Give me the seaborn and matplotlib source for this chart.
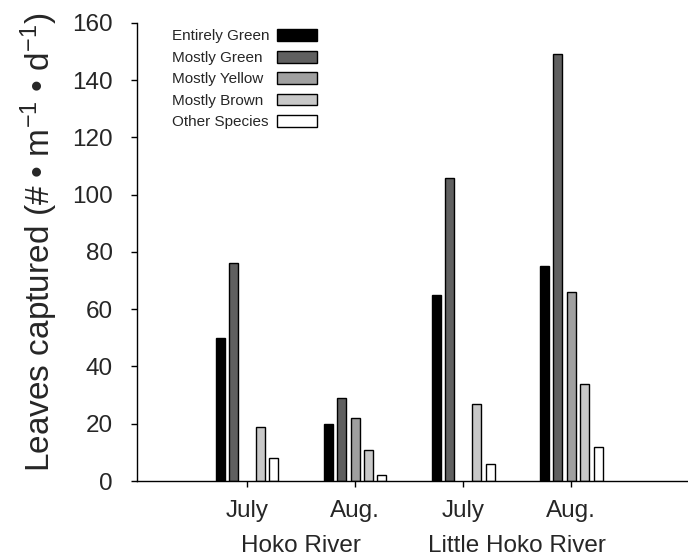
import matplotlib
matplotlib.use("Agg")
import matplotlib.pyplot as plt
import matplotlib.transforms as mtransforms
from matplotlib.patches import Patch
import seaborn as sns
import pandas as pd

# ---- data ----
groups = ["Hoko July", "Hoko Aug.", "Little July", "Little Aug."]
tick_labels = ["July", "Aug.", "July", "Aug."]
river_labels = ["Hoko River", "Little Hoko River"]
categories = ["Entirely Green", "Mostly Green", "Mostly Yellow", "Mostly Brown", "Other Species"]
entirely_green = [50, 20, 65, 75]
mostly_green = [76, 29, 106, 149]
mostly_yellow = [None, 22, None, 66]
mostly_brown = [19, 11, 27, 34]
other_species = [8, 2, 6, 12]
colors = ["#000000", "#606060", "#a0a0a0", "#c8c8c8", "#ffffff"]

series = [entirely_green, mostly_green, mostly_yellow, mostly_brown, other_species]
rows = []
for cat, vals in zip(categories, series):
    for g, v in zip(groups, vals):
        if v is not None:
            rows.append({"group": g, "category": cat, "value": v})
df = pd.DataFrame(rows)

sns.set_theme(style="ticks")
plt.rcParams["font.family"] = ["Liberation Sans", "DejaVu Sans"]
plt.rcParams["mathtext.fontset"] = "custom"
plt.rcParams["mathtext.rm"] = "Liberation Sans"
plt.rcParams["mathtext.it"] = "Liberation Sans"
plt.rcParams["mathtext.bf"] = "Liberation Sans"

fig = plt.figure(figsize=(6.88, 5.59), dpi=100)
ax = fig.add_axes([0.199, 0.1395, 0.801, 0.8195])

sns.barplot(data=df, x="group", y="value", hue="category", order=groups,
            hue_order=categories, palette=colors, width=0.62, gap=0.33,
            edgecolor="black", linewidth=1.0, ax=ax, legend=False)

ax.set_xlim(-1.02, 4.08)
ax.set_ylim(0, 160)
ax.set_yticks(range(0, 161, 20))
ax.set_xticks(range(4))
ax.set_xticklabels(tick_labels, fontsize=17.5)
ax.tick_params(axis="y", labelsize=17.5, length=4.5, width=1, color="black", pad=13)
ax.tick_params(axis="x", length=4, width=1, color="black", pad=10)
ax.set_xlabel("")
ax.set_ylabel("Leaves captured (# • m$^{\\mathrm{-}1}$ • d$^{\\mathrm{-}1}$)",
              fontsize=24, va="center")
ax.yaxis.set_label_coords(-0.178, 0.52)
for s in ["top", "right"]:
    ax.spines[s].set_visible(False)
for s in ["left", "bottom"]:
    ax.spines[s].set_color("black")
    ax.spines[s].set_linewidth(1.0)

trans = mtransforms.blended_transform_factory(ax.transData, ax.transAxes)
ax.text(0.5, -0.142, river_labels[0], transform=trans, ha="center", va="center", fontsize=17.5)
ax.text(2.5, -0.142, river_labels[1], transform=trans, ha="center", va="center", fontsize=17.5)

# legend: text left-aligned, boxes in a column on the right
handles = [Patch(facecolor=c, edgecolor="black", linewidth=1.0) for c in colors]
common = dict(loc="upper left", bbox_to_anchor=(0.0635, 0.986), frameon=False,
              fontsize=11, labelspacing=0.48, borderaxespad=0, borderpad=0,
              handleheight=0.8)
leg_boxes = ax.legend(handles, categories, markerfirst=False,
                      handlelength=2.6, handletextpad=0.5, **common)
for t in leg_boxes.get_texts():
    t.set_alpha(0)
ax.add_artist(leg_boxes)
blank = [Patch(facecolor="none", edgecolor="none") for _ in colors]
leg_text = ax.legend(blank, categories, markerfirst=True,
                     handlelength=0, handletextpad=0, **common)

fig.savefig("out.png", dpi=100)
